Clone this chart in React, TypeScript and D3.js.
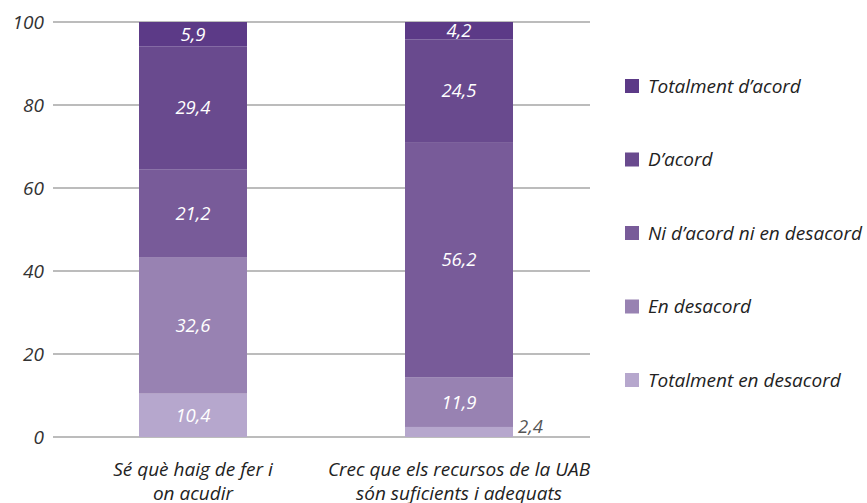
import React from "react";
import * as d3 from "d3";

const categories = ["Sé què haig de fer i\non acudir", "Crec que els recursos de la UAB\nsón suficients i adequats"];
const seriesNames = ["Totalment en desacord", "En desacord", "Ni d’acord ni en desacord", "D’acord", "Totalment d’acord"];
const seriesColors = ["#b6a7cd", "#9882b2", "#785b99", "#694a8e", "#5c3a87"];
const values = [
  [10.4, 32.6, 21.2, 29.4, 5.9],
  [2.4, 11.9, 56.2, 24.5, 4.2],
];
const yTicks = [0, 20, 40, 60, 80, 100];

const W = 867;
const H = 503;
const font = "'Open Sans', sans-serif";

export default function App() {
  const x = d3.scaleBand<number>().domain([0, 1]).range([60, 592]).paddingInner(0.594).paddingOuter(0.297);
  const y = d3.scaleLinear().domain([0, 100]).range([437, 22]);

  const rows = values.map((v, i) => {
    const o: Record<string, number> = { idx: i };
    seriesNames.forEach((n, j) => (o[n] = v[j]));
    return o;
  });
  const stacked = d3.stack<Record<string, number>>().keys(seriesNames).offset(d3.stackOffsetExpand)(rows);

  return (
    <svg width={W} height={H} style={{ position: "absolute", left: 0, top: 0, background: "#fff" }}>
      {yTicks.map((t) => (
        <g key={t}>
          <line x1={53} x2={590} y1={y(t)} y2={y(t)} stroke="#a6a6a6" strokeWidth={1.3} />
          <text x={44} y={y(t)} dy="0.35em" textAnchor="end" fontFamily={font} fontStyle="italic" fontSize={19} fill="#333">
            {t}
          </text>
        </g>
      ))}
      {stacked.map((s, j) =>
        s.map((d, i) => {
          const y0 = y(d[0] * 100);
          const y1 = y(d[1] * 100);
          const v = values[i][j];
          const small = v < 4;
          const bx = x(i)!;
          return (
            <g key={`${j}-${i}`}>
              <rect x={bx} width={x.bandwidth()} y={y1} height={y0 - y1} fill={seriesColors[j]} />
              <text
                x={small ? bx + x.bandwidth() + 5 : bx + x.bandwidth() / 2}
                y={small ? (y0 + y1) / 2 - 5 : (y0 + y1) / 2}
                dy="0.35em"
                textAnchor={small ? "start" : "middle"}
                fontFamily={font}
                fontStyle="italic"
                fontSize={18.5}
                fill={small ? "#555" : "#fff"}
              >
                {String(v).replace(".", ",")}
              </text>
            </g>
          );
        })
      )}
      {categories.map((c, i) => (
        <text key={i} x={x(i)! + x.bandwidth() / 2} y={469} textAnchor="middle" fontFamily={font} fontStyle="italic" fontSize={19} fill="#222">
          {c.split("\n").map((line, k) => (
            <tspan key={k} x={x(i)! + x.bandwidth() / 2} dy={k === 0 ? "0.35em" : 24}>
              {line}
            </tspan>
          ))}
        </text>
      ))}
      {seriesNames
        .slice()
        .reverse()
        .map((n, k) => {
          const j = seriesNames.length - 1 - k;
          const ly = 86 + k * 73.5;
          return (
            <g key={n}>
              <rect x={625} y={ly - 7} width={14} height={14} fill={seriesColors[j]} />
              <text x={648} y={ly} dy="0.35em" fontFamily={font} fontStyle="italic" fontSize={19} fill="#222">
                {n}
              </text>
            </g>
          );
        })}
    </svg>
  );
}
